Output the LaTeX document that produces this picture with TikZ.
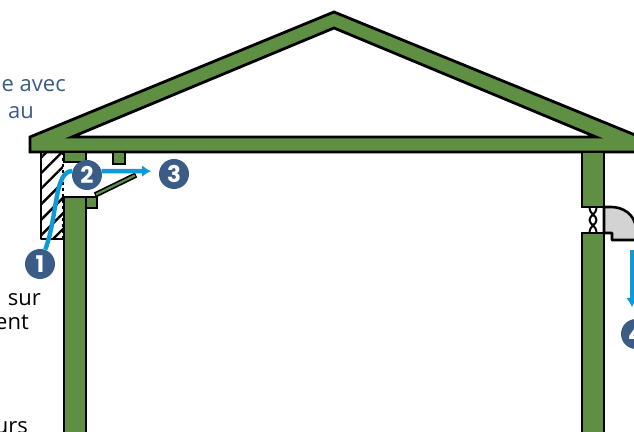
\documentclass[tikz,border=0pt]{standalone}
\usepackage{fontspec}
\setmainfont{Open Sans}
\newfontfamily\stepfont{Poppins}
\usetikzlibrary{patterns.meta,arrows.meta}
\definecolor{woodgreen}{HTML}{5F8F42}
\definecolor{stepblue}{HTML}{3B5C86}
\definecolor{airblue}{HTML}{0C9AD8}
\definecolor{ductgrey}{HTML}{D3D3D3}
\tikzset{
  wood/.style={draw=black,fill=woodgreen,line width=2.8bp,line join=miter},
  flow/.style={draw=airblue,line width=4.4bp,->},
  stepdot/.style={circle,fill=stepblue,text=white,inner sep=0pt,minimum size=30bp,font=\stepfont\fontsize{23bp}{23bp}\selectfont\bfseries},
  caption/.style={inner sep=0pt,anchor=base east,font=\fontsize{22bp}{22bp}\selectfont},
}
\begin{document}
\begin{tikzpicture}[>={Latex[length=9bp,width=12bp]},line join=bevel,]
%%
\useasboundingbox (0bp,0bp) rectangle (634bp,432bp);
\clip (0bp,0bp) rectangle (634bp,432bp);
%
\path [wood,even odd rule] (334bp,420bp) -- (30bp,295bp) -- (30bp,280bp) -- (640bp,280bp) -- (640bp,295bp) -- cycle
  (334bp,404bp) -- (72bp,295bp) -- (596bp,295bp) -- cycle;
%
\draw [line width=2.6bp,pattern={Lines[angle=45,distance=11bp,line width=2.4bp]}] (63bp,280bp) -- (41bp,280bp) -- (41bp,193bp) -- (63bp,193bp);
\draw [line width=2.6bp,dashed] (63bp,280bp) -- (63bp,193bp);
%
\path [wood] (64bp,280bp) rectangle (86bp,270bp);
\path [wood] (113bp,280bp) rectangle (125bp,268bp);
\path [wood] (64bp,-5bp) rectangle (86bp,235bp);
\path [wood] (86bp,235bp) rectangle (97bp,224bp);
\draw [line width=5.5bp] (95bp,237bp) -- (136bp,257bp);
\draw [woodgreen,line width=2.2bp] (96bp,237.5bp) -- (135bp,256.5bp);
%
\path [wood] (582bp,280bp) rectangle (604bp,225bp);
\path [wood] (582bp,-5bp) rectangle (604bp,199bp);
\draw [line width=2bp] (589.5bp,225bp) .. controls (589.5bp,217bp) and (596.5bp,217bp) .. (596.5bp,212bp) .. controls (596.5bp,207bp) and (589.5bp,207bp) .. (589.5bp,199bp);
\draw [line width=2bp] (596.5bp,225bp) .. controls (596.5bp,217bp) and (589.5bp,217bp) .. (589.5bp,212bp) .. controls (589.5bp,207bp) and (596.5bp,207bp) .. (596.5bp,199bp);
\draw [fill=ductgrey,line width=2.6bp] (604bp,199bp) -- (604bp,225bp) -- (611bp,225bp) .. controls (623bp,225bp) and (634bp,218bp) .. (636bp,205bp) -- (640bp,192bp) -- (612bp,192bp) -- (612bp,199bp) -- cycle;
%
\node (step_1) at (40bp,168bp) [stepdot] {1};
\node (step_2) at (87bp,257bp) [stepdot] {2};
\node (step_3) at (174bp,258bp) [stepdot] {3};
\node (step_4) at (636bp,98bp) [stepdot] {4};
\coordinate (tip_3) at (151bp,260.9bp);
\coordinate (start_4) at (632bp,182bp);
\coordinate (tip_4) at (632bp,125bp);
%
\draw [flow,-] (step_1) .. controls (58bp,217bp) and (54bp,260.9bp) .. (step_2.165);
\draw [flow] (step_2.15) -- (tip_3);
\draw [flow] (start_4) -- (tip_4);
%
\node (text_avec) at (66bp,340bp) [caption,text=stepblue] {e avec};
\node (text_au) at (34bp,313bp) [caption,text=stepblue] {au};
\node (text_sur) at (41bp,126bp) [caption] {sur};
\node (text_ent) at (29bp,102bp) [caption] {ent};
\node (text_urs) at (28bp,-1bp) [caption] {urs};
%
\end{tikzpicture}
\end{document}
